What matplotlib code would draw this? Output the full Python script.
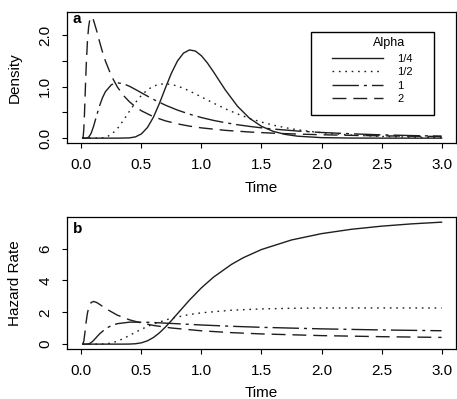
import matplotlib
matplotlib.use('Agg')
import matplotlib.pyplot as plt
from matplotlib.patches import Rectangle

plt.rcParams['font.family'] = ['Liberation Sans', 'DejaVu Sans']

# Values (panel a: density, panel b: hazard rate)
alpha_labels = ['1/4', '1/2', '1', '2']

t_dens_q = [0.01, 0.3, 0.4, 0.45, 0.5, 0.55, 0.6, 0.65, 0.7, 0.75, 0.8, 0.85, 0.9, 0.95,
            1.0, 1.05, 1.1, 1.15, 1.2, 1.3, 1.4, 1.5, 1.6, 1.7, 1.8, 2.0, 2.25, 2.5, 3.0]
dens_q = [0, 0.0002, 0.005, 0.024, 0.083, 0.206, 0.407, 0.674, 0.974, 1.261, 1.495, 1.648, 1.710, 1.688,
          1.596, 1.455, 1.286, 1.107, 0.930, 0.619, 0.386, 0.229, 0.130, 0.072, 0.038, 0.010, 0.002, 0.0003, 0.0]

t_dens_h = [0.01, 0.15, 0.2, 0.25, 0.3, 0.35, 0.4, 0.45, 0.5, 0.55, 0.6, 0.65, 0.7, 0.75, 0.8, 0.85,
            0.9, 0.95, 1.0, 1.1, 1.2, 1.3, 1.4, 1.5, 1.6, 1.7, 1.8, 2.0, 2.25, 2.5, 2.75, 3.0]
dens_h = [0, 0.001, 0.015, 0.071, 0.185, 0.345, 0.521, 0.689, 0.830, 0.937, 1.007, 1.045, 1.053, 1.040, 1.009, 0.966,
          0.914, 0.857, 0.798, 0.679, 0.568, 0.469, 0.383, 0.311, 0.251, 0.202, 0.162, 0.104, 0.059, 0.033, 0.019, 0.011]

t_dens_1 = [0.01, 0.04, 0.06, 0.08, 0.1, 0.125, 0.15, 0.175, 0.2, 0.25, 0.3, 0.35, 0.4, 0.45, 0.5, 0.6,
            0.7, 0.8, 0.9, 1.0, 1.1, 1.2, 1.3, 1.4, 1.5, 1.6, 1.8, 2.0, 2.25, 2.5, 2.75, 3.0]
dens_1 = [0, 0.0005, 0.017, 0.089, 0.220, 0.422, 0.618, 0.780, 0.901, 1.036, 1.073, 1.054, 1.006, 0.944, 0.879, 0.751,
          0.639, 0.544, 0.465, 0.399, 0.344, 0.299, 0.260, 0.228, 0.200, 0.176, 0.138, 0.110, 0.084, 0.064, 0.050, 0.039]

t_dens_2 = [0.01, 0.015, 0.02, 0.025, 0.03, 0.035, 0.04, 0.05, 0.06, 0.07, 0.08, 0.09, 0.1, 0.125, 0.15,
            0.175, 0.2, 0.25, 0.3, 0.35, 0.4, 0.45, 0.5, 0.6, 0.7, 0.8, 0.9, 1.0, 1.2, 1.4, 1.6, 1.8,
            2.0, 2.25, 2.5, 2.75, 3.0]
dens_2 = [0.001, 0.033, 0.174, 0.435, 0.761, 1.095, 1.400, 1.869, 2.153, 2.299, 2.349, 2.339, 2.292, 2.099, 1.880,
          1.676, 1.495, 1.205, 0.990, 0.828, 0.705, 0.608, 0.530, 0.415, 0.335, 0.277, 0.233, 0.199, 0.151, 0.119, 0.096, 0.079,
          0.066, 0.054, 0.045, 0.038, 0.032]

t_haz_q = [0.01, 0.35, 0.4, 0.45, 0.5, 0.55, 0.6, 0.65, 0.7, 0.75, 0.8, 0.9, 1.0, 1.1, 1.25, 1.35,
           1.5, 1.75, 2.0, 2.25, 2.5, 2.75, 3.0]
haz_q = [0, 0.0005, 0.005, 0.024, 0.083, 0.208, 0.417, 0.711, 1.074, 1.482, 1.912, 2.765, 3.539, 4.205, 5.008, 5.434,
         5.942, 6.542, 6.940, 7.214, 7.409, 7.553, 7.660]

t_haz_h = [0.01, 0.15, 0.2, 0.25, 0.3, 0.35, 0.4, 0.45, 0.5, 0.55, 0.6, 0.75, 0.9, 1.0, 1.25, 1.5,
           1.75, 2.0, 2.5, 3.0]
haz_h = [0, 0.001, 0.015, 0.071, 0.187, 0.352, 0.545, 0.744, 0.935, 1.110, 1.266, 1.627, 1.860, 1.967, 2.131, 2.212,
         2.251, 2.270, 2.274, 2.269]

t_haz_1 = [0.01, 0.04, 0.06, 0.08, 0.1, 0.125, 0.15, 0.2, 0.25, 0.3, 0.4, 0.5, 0.6, 0.75, 1.0, 1.25,
           1.5, 2.0, 2.5, 3.0]
haz_1 = [0, 0.0005, 0.017, 0.089, 0.221, 0.427, 0.634, 0.962, 1.168, 1.286, 1.379, 1.384, 1.357, 1.299, 1.202, 1.121,
         1.056, 0.959, 0.891, 0.841]

t_haz_2 = [0.01, 0.02, 0.03, 0.04, 0.05, 0.06, 0.08, 0.1, 0.125, 0.15, 0.2, 0.3, 0.4, 0.5, 0.6, 0.75,
           1.0, 1.25, 1.5, 2.0, 2.5, 3.0]
haz_2 = [0.001, 0.175, 0.765, 1.422, 1.932, 2.273, 2.605, 2.680, 2.624, 2.506, 2.244, 1.817, 1.528, 1.325, 1.175, 1.013,
         0.837, 0.722, 0.642, 0.535, 0.468, 0.422]

x_ticks = [0.0, 0.5, 1.0, 1.5, 2.0, 2.5, 3.0]
dens_ticks = [0.0, 0.5, 1.0, 1.5, 2.0]
dens_tick_labels = ['0.0', '', '1.0', '', '2.0']
haz_ticks = [0, 2, 4, 6]

# R-like line types: solid, dotted, dot-dash, long dash
line_dashes = [None, (1.2, 3.4), (19, 3.6, 2.2, 3.6), (10, 5)]
col = '#1e1e1e'
lw = 1.0

fig = plt.figure(figsize=(4.57, 3.99), dpi=100)
ax1 = fig.add_axes([0.1466, 0.6416, 0.8512, 0.3283])
ax2 = fig.add_axes([0.1466, 0.1253, 0.8512, 0.3301])

dens_series = [(t_dens_q, dens_q), (t_dens_h, dens_h), (t_dens_1, dens_1), (t_dens_2, dens_2)]
haz_series = [(t_haz_q, haz_q), (t_haz_h, haz_h), (t_haz_1, haz_1), (t_haz_2, haz_2)]

handles = []
for (t, y), d, lab in zip(dens_series, line_dashes, alpha_labels):
    ln, = ax1.plot(t, y, color=col, lw=lw, label=lab)
    if d is not None:
        ln.set_dashes(d)
    handles.append(ln)

for (t, y), d in zip(haz_series, line_dashes):
    ln, = ax2.plot(t, y, color=col, lw=lw)
    if d is not None:
        ln.set_dashes(d)

for ax in (ax1, ax2):
    ax.set_xlim(-0.12, 3.12)
    ax.set_xticks(x_ticks)
    ax.set_xticklabels(['%.1f' % v for v in x_ticks])
    ax.tick_params(direction='out', length=3.6, width=0.8, pad=7, labelsize=11)
    ax.tick_params(axis='y', labelrotation=90)
    for s in ax.spines.values():
        s.set_linewidth(0.9)
    ax.set_xlabel('Time', fontsize=11)

ax1.set_ylim(-0.094, 2.445)
ax1.set_yticks(dens_ticks)
ax1.set_yticklabels(dens_tick_labels)
ax2.set_ylim(-0.306, 7.966)
ax2.set_yticks(haz_ticks)
ax2.set_yticklabels([str(v) for v in haz_ticks])
for ax in (ax1, ax2):
    for lbl in ax.get_yticklabels():
        lbl.set_va('center')

ax1.set_ylabel('Density', fontsize=11)
ax2.set_ylabel('Hazard Rate', fontsize=11)
ax1.yaxis.set_label_coords(-0.1157, 0.5)
ax2.yaxis.set_label_coords(-0.1157, 0.5)
ax1.xaxis.set_label_coords(0.5, -0.29)
ax2.xaxis.set_label_coords(0.5, -0.28)

ax1.text(0.015, 0.916, 'a', transform=ax1.transAxes, fontsize=11, fontweight='bold', va='baseline')
ax2.text(0.015, 0.883, 'b', transform=ax2.transAxes, fontsize=11, fontweight='bold', va='baseline')

# legend box with title, entries drawn by the legend
ax1.add_patch(Rectangle((0.627, 0.214), 0.316, 0.633, transform=ax1.transAxes,
                        fill=False, edgecolor='black', lw=1.0))
ax1.text(0.828, 0.763, 'Alpha', transform=ax1.transAxes, fontsize=9, ha='center', va='center')
ax1.legend(handles=handles, loc='upper left', bbox_to_anchor=(0.681, 0.680), frameon=False,
           fontsize=8, handlelength=4.6, handletextpad=1.3, labelspacing=0.3,
           borderpad=0, borderaxespad=0)

fig.savefig('out.png', dpi=100)
